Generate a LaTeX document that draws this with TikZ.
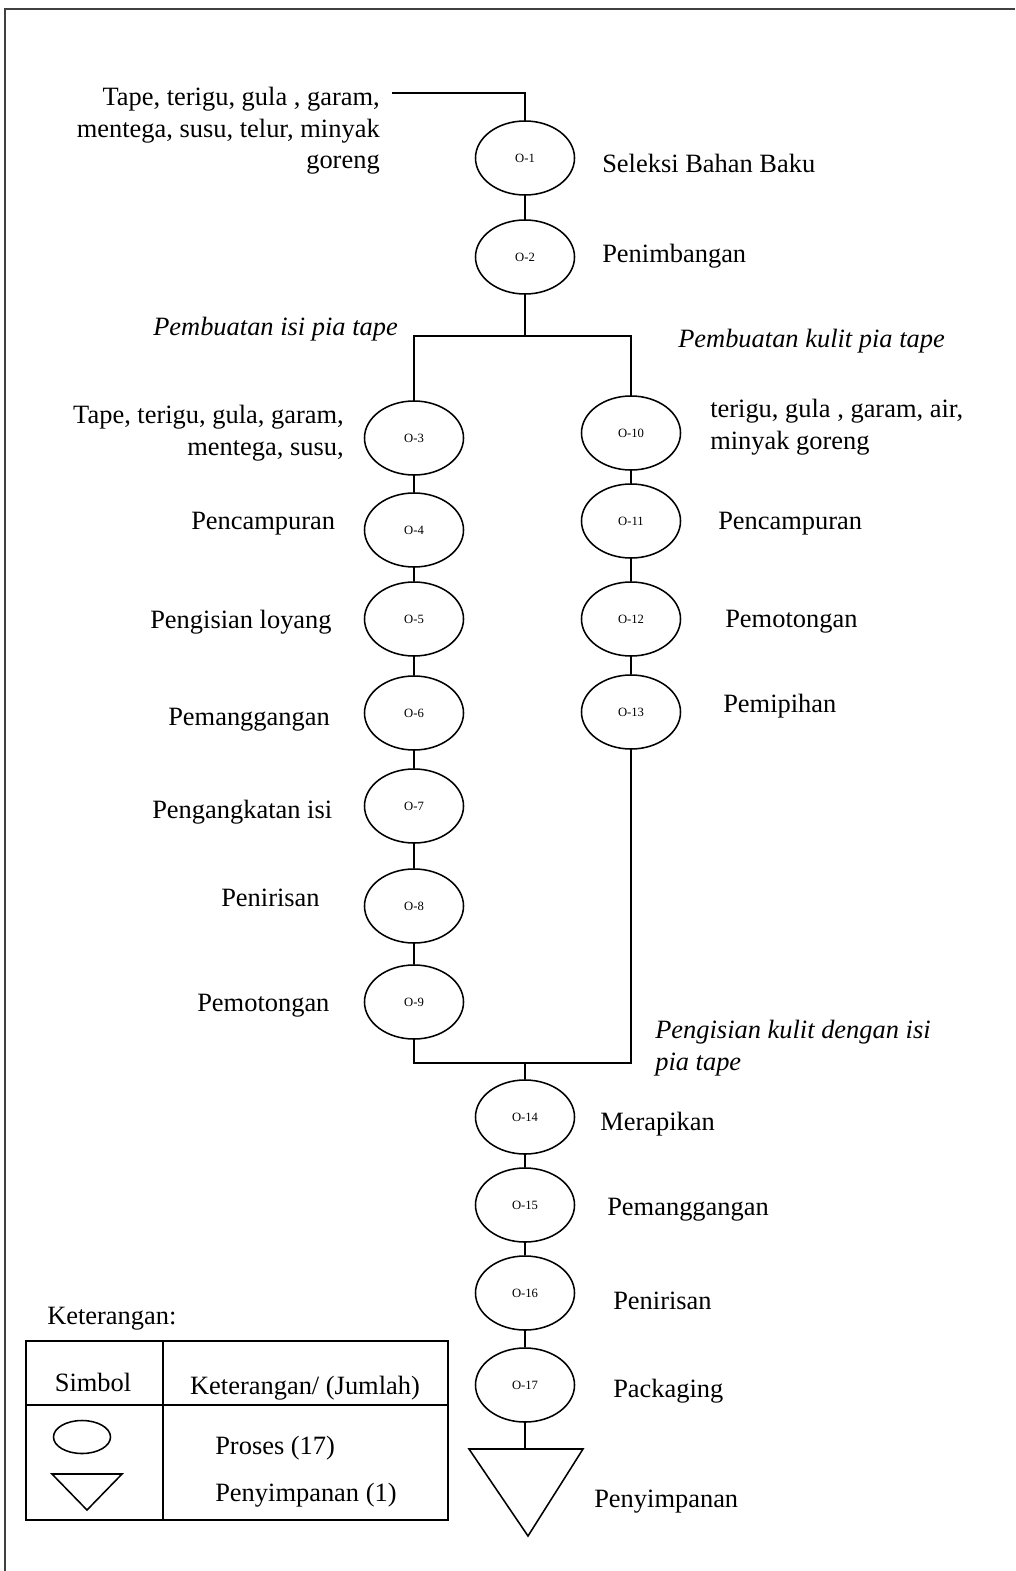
\documentclass[tikz,border=0pt]{standalone}
\usepackage{fontspec}
\setmainfont{Liberation Serif}
\usetikzlibrary{shapes.geometric}
\tikzset{
  proses/.style={draw, ellipse, line width=1.1pt, minimum width=2.475cm, minimum height=1.85cm, inner sep=0pt, font=\fontsize{9}{10}\selectfont},
  ket/.style={font=\fontsize{18.8}{22.5}\selectfont, inner sep=0pt},
  alur/.style={line width=1.1pt},
  tabel/.style={line width=0.8pt},
}

\begin{document}
\begin{tikzpicture}[x=0.025cm, y=-0.025cm]
\useasboundingbox (0,0) rectangle (1015,1571);
% bingkai
\draw[line width=1.2pt, black!75] (5,1571) -- (5,9) -- (1015,9);

% operasi
\node[proses] (o1) at (525,158) {O-1};
\node[proses] (o2) at (525,257) {O-2};
\node[proses] (o3) at (414,438) {O-3};
\node[proses] (o4) at (414,530) {O-4};
\node[proses] (o5) at (414,619) {O-5};
\node[proses] (o6) at (414,713) {O-6};
\node[proses] (o7) at (414,806) {O-7};
\node[proses] (o8) at (414,906) {O-8};
\node[proses] (o9) at (414,1002) {O-9};
\node[proses] (o10) at (631,433) {O-10};
\node[proses] (o11) at (631,521) {O-11};
\node[proses] (o12) at (631,619) {O-12};
\node[proses] (o13) at (631,712) {O-13};
\node[proses] (o14) at (525,1117) {O-14};
\node[proses] (o15) at (525,1205) {O-15};
\node[proses] (o16) at (525,1293) {O-16};
\node[proses] (o17) at (525,1385) {O-17};
\coordinate (simpan) at (525,1449);
\draw[alur] (simpan) ++(-56,0) -- ++(114,0) -- (528,1536) -- cycle;

% keterangan tiap operasi
\node[ket, align=right, anchor=east] (bahan1) at (380,131) {Tape, terigu, gula , garam,\\mentega, susu, telur, minyak\\goreng};
\node[ket, anchor=west] (k1) at (602,163) {Seleksi Bahan Baku};
\node[ket, anchor=west] (k2) at (602,256) {Penimbangan};
\node[ket, anchor=west, font=\fontsize{18.8}{22.5}\selectfont\itshape] (isi) at (153,329) {Pembuatan isi pia tape};
\node[ket, anchor=west, font=\fontsize{18.8}{22.5}\selectfont\itshape] (kulit) at (678,341) {Pembuatan kulit pia tape};
\node[ket, align=right, anchor=east] (bahan2) at (344,433) {Tape, terigu, gula, garam,\\mentega, susu,};
\node[ket, align=left, anchor=west] (bahan3) at (710,427) {terigu, gula , garam, air,\\minyak goreng};
\node[ket, anchor=west] (k4) at (191,524) {Pencampuran};
\node[ket, anchor=west] (k5) at (150,622) {Pengisian loyang};
\node[ket, anchor=west] (k6) at (168,720) {Pemanggangan};
\node[ket, anchor=west] (k7) at (152,812) {Pengangkatan isi};
\node[ket, anchor=west] (k8) at (221,898) {Penirisan};
\node[ket, anchor=west] (k9) at (197,1006) {Pemotongan};
\node[ket, anchor=west] (k11) at (718,524) {Pencampuran};
\node[ket, anchor=west] (k12) at (725,622) {Pemotongan};
\node[ket, anchor=west] (k13) at (723,706) {Pemipihan};
\node[ket, align=left, anchor=west, font=\fontsize{18.8}{22.5}\selectfont\itshape] (gabung) at (655,1048) {Pengisian kulit dengan isi\\pia tape};
\node[ket, anchor=west] (k14) at (600,1124) {Merapikan};
\node[ket, anchor=west] (k15) at (607,1210) {Pemanggangan};
\node[ket, anchor=west] (k16) at (613,1301) {Penirisan};
\node[ket, anchor=west] (k17) at (613,1391) {Packaging};
\node[ket, anchor=west] (k18) at (594,1502) {Penyimpanan};

% alur
\coordinate (masuk) at (392,93);
\coordinate (cabang) at (525,336);
\coordinate (temu) at (525,1063);
\draw[alur] (masuk) -| (o1);
\draw[alur] (o1) -- (o2);
\draw[alur] (o2) -- (cabang);
\draw[alur] (o3) |- (cabang) -| (o10);
\draw[alur] (o3) -- (o4) -- (o5) -- (o6) -- (o7) -- (o8) -- (o9);
\draw[alur] (o10) -- (o11) -- (o12) -- (o13);
\draw[alur] (o9) |- (temu) -| (o13);
\draw[alur] (temu) -- (o14);
\draw[alur] (o14) -- (o15) -- (o16) -- (o17) -- (simpan);

% legenda
\node[ket, anchor=west] (judul) at (47,1319) {Keterangan:};
\draw[tabel] (26,1341) rectangle (448,1520);
\draw[tabel] (163,1341) -- (163,1520);
\draw[tabel] (26,1405) -- (448,1405);
\node[ket] (simbol) at (93,1382) {Simbol};
\node[ket] (jumlah) at (305,1388) {Keterangan/ (Jumlah)};
\draw[alur] (82,1437) ellipse (0.7125cm and 0.4125cm);
\draw[alur] (52,1474) -- (122,1474) -- (87,1510) -- cycle;
\node[ket, anchor=west] (lp) at (215,1448) {Proses (17)};
\node[ket, anchor=west] (ls) at (215,1495) {Penyimpanan (1)};
\end{tikzpicture}
\end{document}
